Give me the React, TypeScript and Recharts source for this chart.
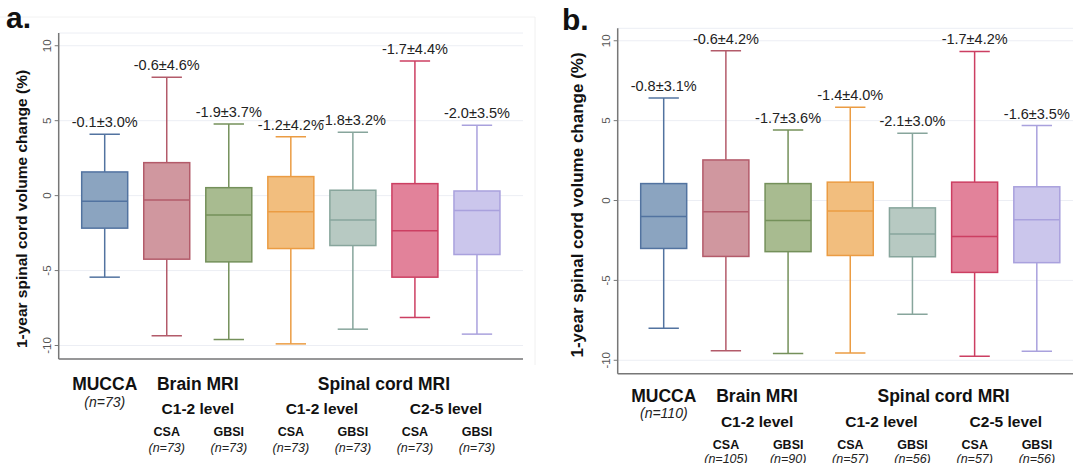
import React from 'react';
import { ComposedChart, Bar, XAxis, YAxis, CartesianGrid, LabelList } from 'recharts';

const FONT = '"Liberation Sans", Arial, Helvetica, sans-serif';

// categories shared by both panels
const groups = ['MUCCA', 'CSA', 'GBSI', 'CSA', 'GBSI', 'CSA', 'GBSI'];
const fills = ['#8ba4c0', '#d0979f', '#a8bb90', '#f2be7e', '#b7c9c2', '#e2829a', '#cbc6ec'];
const strokes = ['#5273a0', '#b35b6a', '#74905a', '#eb9c43', '#87a59c', '#cc3f62', '#a9a1dd'];
const yTicks = [-10, -5, 0, 5, 10];

// panel a
const nA = [73, 73, 73, 73, 73, 73, 73];
const lowA = [-5.44, -9.35, -9.6, -9.89, -8.91, -8.13, -9.24];
const q1A = [-2.17, -4.24, -4.42, -3.53, -3.33, -5.44, -3.93];
const medA = [-0.37, -0.29, -1.29, -1.07, -1.62, -2.35, -1.0];
const q3A = [1.58, 2.2, 0.53, 1.27, 0.36, 0.8, 0.31];
const highA = [4.1, 7.9, 4.78, 3.93, 4.23, 8.98, 4.69];
const meanA = ['-0.1', '-0.6', '-1.9', '-1.2', '-1.8', '-1.7', '-2.0'];
const sdA = ['3.0', '4.6', '3.7', '4.2', '3.2', '4.4', '3.5'];

// panel b
const nB = [110, 105, 90, 57, 56, 57, 56];
const lowB = [-8.0, -9.41, -9.58, -9.54, -7.12, -9.75, -9.44];
const q1B = [-3.0, -3.5, -3.2, -3.44, -3.52, -4.5, -3.89];
const medB = [-1.0, -0.71, -1.25, -0.66, -2.1, -2.25, -1.21];
const q3B = [1.06, 2.54, 1.06, 1.15, -0.46, 1.15, 0.86];
const highB = [6.42, 9.38, 4.42, 5.84, 4.21, 9.33, 4.69];
const meanB = ['-0.8', '-0.6', '-1.7', '-1.4', '-2.1', '-1.7', '-1.6'];
const sdB = ['3.1', '4.2', '3.6', '4.0', '3.0', '4.2', '3.5'];

const buildRows = (low, q1, med, q3, high, mean, sd, n) =>
  groups.map((g, i) => ({
    key: `c${i}`,
    group: g,
    n: n[i],
    range: [low[i], high[i]],
    q1: q1[i],
    med: med[i],
    q3: q3[i],
    label: `${mean[i]}±${sd[i]}%`,
    fill: fills[i],
    stroke: strokes[i],
  }));

// box + whiskers, positioned inside the [low, high] range bar
const BoxShape = (props: any) => {
  const { x, y, width, height, payload } = props;
  const [lo, hi] = payload.range;
  const top = Math.min(y, y + height);
  const bottom = Math.max(y, y + height);
  const py = (v: number) => bottom - ((v - lo) / (hi - lo)) * (bottom - top);
  const cx = x + width / 2;
  const cap = width * 0.33;
  const yQ3 = py(payload.q3);
  const yQ1 = py(payload.q1);
  const s = payload.stroke;
  return (
    <g>
      <line x1={cx} x2={cx} y1={top} y2={yQ3} stroke={s} strokeWidth={1.5} />
      <line x1={cx} x2={cx} y1={yQ1} y2={bottom} stroke={s} strokeWidth={1.5} />
      <line x1={cx - cap} x2={cx + cap} y1={top} y2={top} stroke={s} strokeWidth={1.5} />
      <line x1={cx - cap} x2={cx + cap} y1={bottom} y2={bottom} stroke={s} strokeWidth={1.5} />
      <rect x={x} y={yQ3} width={width} height={yQ1 - yQ3} fill={payload.fill} stroke={s} strokeWidth={1.5} />
      <line x1={x} x2={x + width} y1={py(payload.med)} y2={py(payload.med)} stroke={s} strokeWidth={1.5} />
    </g>
  );
};

const StatLabel = (props: any) => {
  const { x, y, width, height, value } = props;
  const top = Math.min(y, y + height);
  return (
    <text x={x + width / 2} y={top - 12} textAnchor="middle" dominantBaseline="central"
      fontFamily={FONT} fontSize={14.5} fill="#222">
      {value}
    </text>
  );
};

const YTick = (props: any) => {
  const { x, y, payload } = props;
  return (
    <text x={x} y={y} transform={`rotate(-90, ${x}, ${y})`} textAnchor="middle"
      fontFamily={FONT} fontSize={11.5} fill="#555">
      {payload.value}
    </text>
  );
};

const CategoryTick = (props: any) => {
  const { x, y, index, rows, band, off } = props;
  const row = rows[index];
  const bold = { fontFamily: FONT, fontWeight: 700, fill: '#111', textAnchor: 'middle' as const };
  const ital = { fontFamily: FONT, fontStyle: 'italic', fill: '#222', textAnchor: 'middle' as const };
  if (index === 0) {
    return (
      <g>
        <text x={x} y={y + off.main} fontSize={17.5} {...bold}>{row.group}</text>
        <text x={x} y={y + off.mainN} fontSize={14} {...ital}>(n={row.n})</text>
      </g>
    );
  }
  return (
    <g>
      <text x={x} y={y + off.sub} fontSize={12.5} {...bold}>{row.group}</text>
      <text x={x} y={y + off.subN} fontSize={12.5} {...ital}>(n={row.n})</text>
      {index === 1 && (
        <>
          <text x={x + band / 2} y={y + off.main} fontSize={17.5} {...bold}>Brain MRI</text>
          <text x={x + band / 2} y={y + off.level} fontSize={15.5} {...bold}>C1-2 level</text>
        </>
      )}
      {index === 3 && (
        <>
          <text x={x + band * 1.5} y={y + off.main} fontSize={17.5} {...bold}>Spinal cord MRI</text>
          <text x={x + band / 2} y={y + off.level} fontSize={15.5} {...bold}>C1-2 level</text>
        </>
      )}
      {index === 5 && (
        <text x={x + band / 2} y={y + off.level} fontSize={15.5} {...bold}>C2-5 level</text>
      )}
    </g>
  );
};

const Panel = ({ rows, left, width, margin, xHeight, domain, off, letter, letterPos, title, titleSize }) => {
  const plotW = width - margin.left - 30 - margin.right;
  const band = (plotW - 30) / 7;
  return (
    <div style={{ position: 'absolute', left, top: 0, width, height: 463 }}>
      <ComposedChart width={width} height={463} data={rows}
        margin={{ top: margin.top, right: margin.right, left: margin.left, bottom: 0 }}>
        <CartesianGrid vertical={false} stroke="#eceef4" strokeWidth={1} />
        <XAxis dataKey="key" height={xHeight} padding={{ left: 15, right: 15 }}
          axisLine={{ stroke: '#777', strokeWidth: 1.5 }} tickLine={false} tickSize={0} tickMargin={0}
          interval={0}
          tick={(p: any) => <CategoryTick {...p} rows={rows} band={band} off={off} />} />
        <YAxis type="number" domain={domain} ticks={yTicks} allowDataOverflow width={30}
          axisLine={{ stroke: '#777', strokeWidth: 1.5 }} tickLine={{ stroke: '#777' }}
          tickSize={4} tickMargin={4} tick={<YTick />} />
        <Bar dataKey="range" barSize={46} shape={BoxShape} isAnimationActive={false}>
          <LabelList dataKey="label" content={StatLabel} />
        </Bar>
      </ComposedChart>
      <svg width={width} height={463} style={{ position: 'absolute', left: 0, top: 0, pointerEvents: 'none' }}>
        <text x={letterPos[0]} y={letterPos[1]} fontFamily={FONT} fontWeight={700} fontSize={30} fill="#111">
          {letter}
        </text>
        <text x={title[0]} y={title[1]} transform={`rotate(-90, ${title[0]}, ${title[1]})`}
          textAnchor="middle" dominantBaseline="central" fontFamily={FONT} fontWeight={700}
          fontSize={titleSize} fill="#111">
          1-year spinal cord volume change (%)
        </text>
      </svg>
    </div>
  );
};

const rowsA = buildRows(lowA, q1A, medA, q3A, highA, meanA, sdA, nA);
const rowsB = buildRows(lowB, q1B, medB, q3B, highB, meanB, sdB, nB);

export default function App() {
  return (
    <div style={{ position: 'fixed', left: 0, top: 0, width: 1073, height: 463, overflow: 'hidden', background: '#fff' }}>
      <svg width={1073} height={463} style={{ position: 'absolute', left: 0, top: 0 }}>
        <line x1={0} x2={535} y1={17} y2={17} stroke="#f2f2f2" />
        <line x1={535} x2={535} y1={17} y2={365} stroke="#f0f0f0" />
      </svg>
      <Panel rows={rowsA} left={0} width={540}
        margin={{ top: 33, left: 28.7, right: 17 }} xHeight={104} domain={[-10.9, 10.85]}
        off={{ main: 31, mainN: 48, level: 55, sub: 77, subN: 93 }}
        letter="a." letterPos={[6, 28]} title={[21, 209]} titleSize={15.5} />
      <Panel rows={rowsB} left={540} width={543}
        margin={{ top: 28.3, left: 47.7, right: 0 }} xHeight={89.3} domain={[-10.84, 10.78]}
        off={{ main: 28, mainN: 44, level: 53, sub: 75, subN: 89 }}
        letter="b." letterPos={[22, 30]} title={[37, 205]} titleSize={17} />
    </div>
  );
}
